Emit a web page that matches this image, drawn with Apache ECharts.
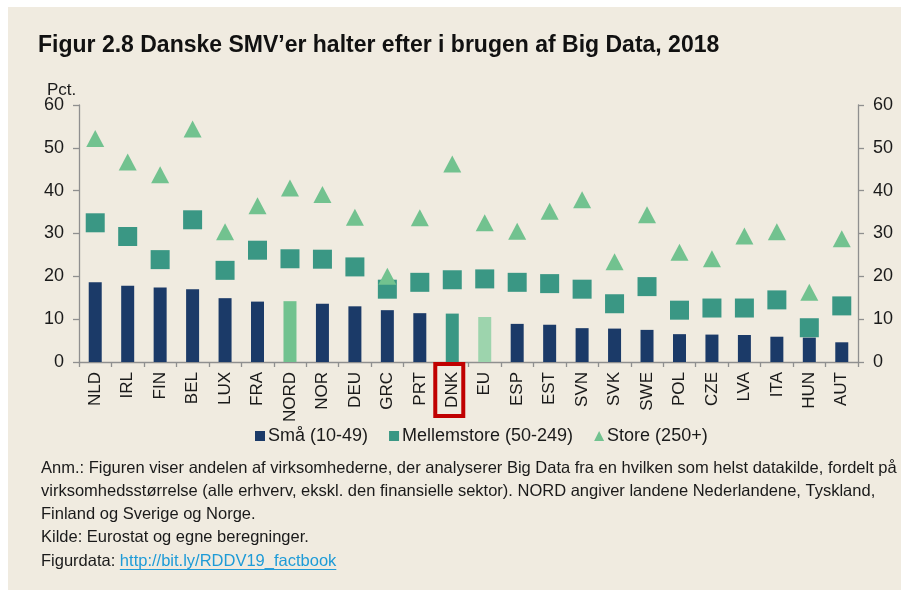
<!DOCTYPE html>
<html>
<head>
<meta charset="utf-8">
<script src="https://cdn.jsdelivr.net/npm/echarts@6/dist/echarts.min.js"></script>
<style>
  html, body { margin: 0; padding: 0; background: #ffffff; }
  #bg { position: absolute; left: 8px; top: 7px; width: 893px; height: 583px; background: #f0ebe0; }
  #chart { position: absolute; left: 0; top: 0; width: 901px; height: 590px; }
</style>
</head>
<body>
<div id="bg"></div>
<div id="chart"></div>
<script>
// ---- data ----
const categories = ['NLD','IRL','FIN','BEL','LUX','FRA','NORD','NOR','DEU','GRC','PRT','DNK','EU','ESP','EST','SVN','SVK','SWE','POL','CZE','LVA','ITA','HUN','AUT'];
const smaa   = [18.6,17.8,17.4,17.0,14.9,14.1,14.2,13.6,13.0,12.1,11.4,11.3,10.5,8.9,8.7,7.9,7.8,7.5,6.5,6.4,6.3,5.9,5.7,4.6];
const mellem = [32.5,29.3,23.9,33.2,21.4,26.1,24.1,24.0,22.2,17.0,18.6,19.2,19.4,18.6,18.3,17.0,13.6,17.6,12.1,12.6,12.6,14.5,8.0,13.1];
const store  = [52.2,46.7,43.7,54.4,30.4,36.5,40.6,39.1,33.8,20.0,33.7,46.2,32.5,30.5,35.2,37.9,23.4,34.4,25.6,24.1,29.4,30.4,16.3,28.8];
const seriesNames = ['Små (10-49)', 'Mellemstore (50-249)', 'Store (250+)'];
const yMin = 0, yMax = 60, yStep = 10;
const titleText = 'Figur 2.8 Danske SMV\u2019er halter efter i brugen af Big Data, 2018';
const unitText = 'Pct.';
const noteLines = [
  'Anm.: Figuren viser andelen af virksomhederne, der analyserer Big Data fra en hvilken som helst datakilde, fordelt på',
  'virksomhedsstørrelse (alle erhverv, ekskl. den finansielle sektor). NORD angiver landene Nederlandene, Tyskland,',
  'Finland og Sverige og Norge.',
  'Kilde: Eurostat og egne beregninger.'
];
const linkPrefix = 'Figurdata: ';
const linkText = 'http://bit.ly/RDDV19_factbook';
const highlightCat = 'DNK';

// ---- styles ----
const FONT = "'Liberation Sans', Arial, sans-serif";
const TXT = '#1a1a1a';
const C_NAVY = '#1b3a68';
const C_TEAL = '#3a9784';
const C_GREEN = '#72c28f';
const barSpecial = { NORD: C_GREEN, DNK: C_TEAL, EU: '#9dd4ad' };
const AXIS = '#8f8f8f';
const NOTE_FS = 16.5;

const chart = echarts.init(document.getElementById('chart'), null, { renderer: 'canvas' });

const barData = smaa.map((v, i) => {
  const c = barSpecial[categories[i]];
  return c ? { value: v, itemStyle: { color: c } } : v;
});

const yAxisCommon = {
  type: 'value', min: yMin, max: yMax, interval: yStep,
  splitLine: { show: false },
  axisLine: { show: true, lineStyle: { color: AXIS, width: 1.3 } },
  axisTick: { show: true, length: 6, lineStyle: { color: AXIS, width: 1.3 } },
  axisLabel: { color: TXT, fontSize: 18, fontFamily: FONT, margin: 15 }
};

const option = {
  animation: false,
  textStyle: { fontFamily: FONT },
  grid: { left: 79, right: 43, top: 105, bottom: 228, containLabel: false },
  xAxis: {
    type: 'category', data: categories, boundaryGap: true,
    axisLine: { show: true, lineStyle: { color: AXIS, width: 1.3 } },
    axisTick: { show: true, length: 5, alignWithLabel: false, lineStyle: { color: AXIS, width: 1.3 } },
    axisLabel: { rotate: 90, color: TXT, fontSize: 17, fontFamily: FONT, margin: 10, interval: 0 }
  },
  yAxis: [
    Object.assign({}, yAxisCommon, { position: 'left' }),
    Object.assign({}, yAxisCommon, { position: 'right' })
  ],
  legend: {
    left: 255, top: 427, padding: 0,
    itemWidth: 10, itemHeight: 10, itemGap: 21,
    textStyle: { color: TXT, fontSize: 18, fontFamily: FONT, padding: [0, 0, 0, -2] },
    data: [
      { name: seriesNames[0], icon: 'rect' },
      { name: seriesNames[1], icon: 'rect' },
      { name: seriesNames[2], icon: 'triangle' }
    ]
  },
  series: [
    { name: seriesNames[0], type: 'bar', data: barData, barWidth: 13,
      itemStyle: { color: C_NAVY }, z: 2 },
    { name: seriesNames[1], type: 'scatter', data: mellem, symbol: 'rect', symbolSize: 19,
      itemStyle: { color: C_TEAL, opacity: 1 }, z: 3 },
    { name: seriesNames[2], type: 'scatter', data: store, symbol: 'triangle', symbolSize: [18, 17],
      itemStyle: { color: C_GREEN, opacity: 1 }, z: 4 }
  ]
};
chart.setOption(option);

// measure text widths for link underline
const mctx = document.createElement('canvas').getContext('2d');
mctx.font = NOTE_FS + "px " + FONT;
const prefixW = mctx.measureText(linkPrefix).width;
const linkW = mctx.measureText(linkText).width;

const noteX = 41, noteY0 = 468, noteDy = 23.25;
const graphics = [];
graphics.push({ type: 'text', x: 38, y: 46, z: 10,
  style: { text: titleText, fill: '#111', font: "bold 23px " + FONT, textVerticalAlign: 'middle' } });
graphics.push({ type: 'text', x: 47, y: 90, z: 10,
  style: { text: unitText, fill: TXT, font: "17px " + FONT, textVerticalAlign: 'middle' } });
noteLines.forEach((t, i) => {
  graphics.push({ type: 'text', x: noteX, y: noteY0 + noteDy * i, z: 10,
    style: { text: t, fill: TXT, font: NOTE_FS + "px " + FONT, textVerticalAlign: 'middle' } });
});
const ly = noteY0 + noteDy * 4;
graphics.push({ type: 'text', x: noteX, y: ly, z: 10,
  style: { text: linkPrefix, fill: TXT, font: NOTE_FS + "px " + FONT, textVerticalAlign: 'middle' } });
graphics.push({ type: 'text', x: noteX + prefixW, y: ly, z: 10,
  style: { text: linkText, fill: '#1e9bd7', font: NOTE_FS + "px " + FONT, textVerticalAlign: 'middle' } });
graphics.push({ type: 'line', z: 10,
  shape: { x1: noteX + prefixW, y1: ly + 8.5, x2: noteX + prefixW + linkW, y2: ly + 8.5 },
  style: { stroke: '#1e9bd7', lineWidth: 1 } });

// red box around highlighted category label
const cx = chart.convertToPixel({ xAxisIndex: 0 }, highlightCat);
const y0 = chart.convertToPixel({ yAxisIndex: 0 }, yMin);
graphics.push({ type: 'rect', z: 10,
  shape: { x: cx - 17, y: y0 + 2, width: 28, height: 52 },
  style: { fill: 'none', stroke: '#c00000', lineWidth: 4 } });

chart.setOption({ graphic: graphics });
</script>
</body>
</html>
